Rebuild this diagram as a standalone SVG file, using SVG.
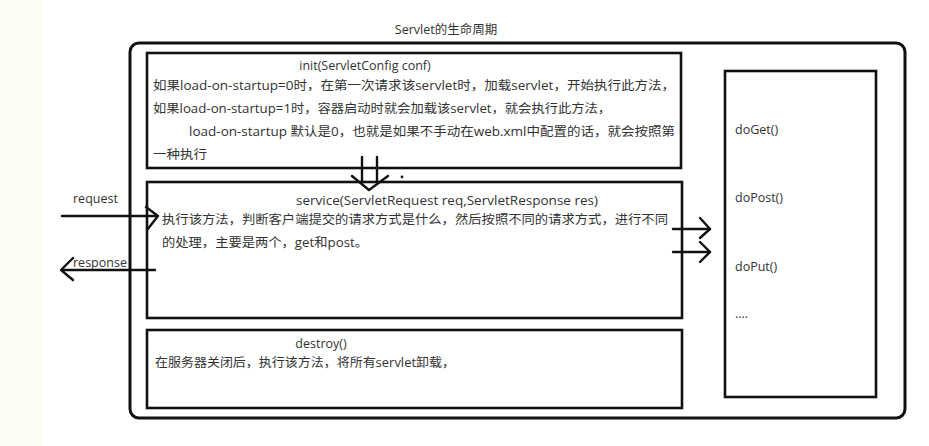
<svg xmlns="http://www.w3.org/2000/svg" width="929" height="446" viewBox="0 0 929 446">
<style>
.box{fill:#fff;stroke:#111;stroke-width:2.6}
.outer{fill:#fff;stroke:#111;stroke-width:3}
.t{font-family:"Open Sans","Noto Sans","Noto Sans CJK SC",sans-serif;font-size:12.5px;fill:#333}
.c{text-anchor:middle}
.ln{fill:none;stroke:#111;stroke-width:2.4;stroke-linecap:round;stroke-linejoin:round}
</style>
<rect x="0" y="0" width="929" height="446" fill="#fff"/>
<rect x="0" y="0" width="42" height="446" fill="#fdfdf4"/>
<text class="t c" x="446" y="34" font-size="13">Servlet的生命周期</text>
<g id="lifecycle">
<rect class="outer" x="130" y="43" width="775" height="375" rx="9"/>
</g>
<g id="init">
<rect class="box" x="147" y="53" width="534" height="115"/>
<text class="t c" x="365" y="70">init(ServletConfig conf)</text>
<text class="t" x="153" y="90" textLength="522" lengthAdjust="spacingAndGlyphs">如果load-on-startup=0时，在第一次请求该servlet时，加载servlet，开始执行此方法，</text>
<text class="t" x="153" y="113" textLength="458" lengthAdjust="spacingAndGlyphs">如果load-on-startup=1时，容器启动时就会加载该servlet，就会执行此方法，</text>
<text class="t" x="189" y="136" textLength="486" lengthAdjust="spacingAndGlyphs">load-on-startup 默认是0，也就是如果不手动在web.xml中配置的话，就会按照第</text>
<text class="t" x="153" y="159" textLength="54" lengthAdjust="spacingAndGlyphs">一种执行</text>
</g>
<g id="service">
<rect class="box" x="147" y="182" width="535" height="136"/>
<text class="t" x="296" y="205" textLength="302" lengthAdjust="spacingAndGlyphs">service(ServletRequest req,ServletResponse res)</text>
<text class="t" x="162" y="224" textLength="506" lengthAdjust="spacingAndGlyphs">执行该方法，判断客户端提交的请求方式是什么，然后按照不同的请求方式，进行不同</text>
<text class="t" x="162" y="247" textLength="206" lengthAdjust="spacingAndGlyphs">的处理，主要是两个，get和post。</text>
</g>
<g id="destroy">
<rect class="box" x="147" y="330" width="535" height="78"/>
<text class="t c" x="321" y="348">destroy()</text>
<text class="t" x="155" y="367" textLength="300" lengthAdjust="spacingAndGlyphs">在服务器关闭后，执行该方法，将所有servlet卸载，</text>
</g>
<g id="methods">
<rect class="box" x="725" y="71" width="151" height="326"/>
<text class="t" x="735" y="134">doGet()</text>
<text class="t" x="735" y="202">doPost()</text>
<text class="t" x="735" y="271">doPut()</text>
<text class="t" x="735" y="318" font-size="9">....</text>
</g>
<g id="labels">
<text class="t" x="73" y="203">request</text>
<text class="t" x="73" y="267">response</text>
</g>
<g id="connectors">
<line class="ln" x1="362" y1="157" x2="362" y2="182"/>
<line class="ln" x1="377" y1="157" x2="377" y2="182"/>
<polyline class="ln" points="352,176 369,190 388,176"/>
<circle cx="402" cy="177" r="1.4" fill="#111"/>
<line class="ln" x1="62" y1="216" x2="157" y2="216"/>
<polyline class="ln" points="146,207 158,216 147,230"/>
<line class="ln" x1="155" y1="270" x2="62" y2="270"/>
<polyline class="ln" points="73,258 61,270 73,280"/>
<line class="ln" x1="673" y1="229" x2="710" y2="229"/>
<polyline class="ln" points="700,218 710,229 700,238"/>
<line class="ln" x1="673" y1="252" x2="710" y2="252"/>
<polyline class="ln" points="700,242 710,252 700,262"/>
</g>
</svg>
